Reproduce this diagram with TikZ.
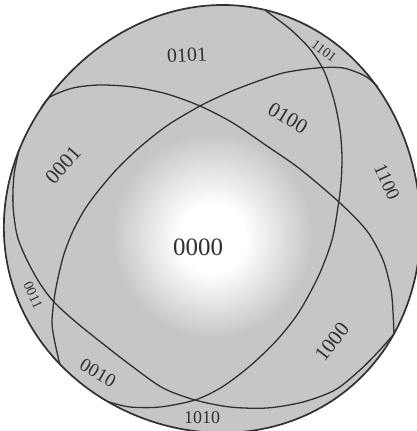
\documentclass[tikz,border=0pt]{standalone}
\usepackage{fontspec}
\setmainfont{Liberation Serif}
\definecolor{ink}{HTML}{303030}
\definecolor{rim}{HTML}{C6C6C6}
\pgfdeclareradialshading{globe}{\pgfpoint{0bp}{-2.5bp}}{%
  color(0bp)=(white); color(4bp)=(white); color(12bp)=(rim); color(50bp)=(rim)}
\tikzset{declare function={rimr(\t)=211+0.88*cos(\t)-0.92*sin(\t)-2.75*cos(2*\t)
  +0.43*sin(2*\t)-2.67*cos(3*\t)-2*sin(3*\t);}}

\begin{document}
\begin{tikzpicture}[
  x=1pt,y=1pt,
  outline/.style={draw=ink,line width=1.7pt},
  curve/.style={draw=ink,line width=1.3pt},
  code/.style={font=\fontsize{20}{20}\selectfont,text=ink,inner sep=0pt},
  bigcode/.style={code,font=\fontsize{25}{25}\selectfont},
  smallcode/.style={code,font=\fontsize{14}{14}\selectfont}
]
\useasboundingbox (0,0) rectangle (417,431);
\coordinate (O) at (214,211);

% Sphere outline (hand drawn, not quite round)
\begin{scope}[shift={(O)}]
  \shadedraw[shading=globe,outline] plot[domain=0:358,samples=180] (\x:{rimr(\x)}) -- cycle;
\end{scope}

% Four circles on the sphere (front halves)
\draw[curve] plot[smooth] coordinates {(41,323) (50,334) (73,343) (100,346)
  (133,344) (167,337) (200,325) (233,308) (267,285) (300,262) (340,228)
  (367,200) (383,171) (391,141) (393,119) (394,97)};
\draw[curve] plot[smooth] coordinates {(19,281) (14,256) (13,226) (17,196)
  (26,173) (39,149) (54,129) (77,108) (107,84) (133,64) (163,43) (195,31)
  (230,24) (267,23) (303,29) (335,41) (360,61) (378,79) (394,97)};
\draw[curve] plot[smooth] coordinates {(60,66) (55,88) (52,108) (54,131)
  (58,153) (64,177) (73,200) (85,222) (99,241) (117,262) (140,284) (168,306)
  (200,325) (225,337) (250,347) (283,358) (317,363) (343,363) (365,355) (378,344)};
\draw[curve] plot[smooth] coordinates {(266,420) (290,402) (310,382) (324,360)
  (334,331) (340,301) (342,274) (341,248) (338,224) (332,191) (319,156)
  (299,119) (277,91) (250,65) (222,44) (195,31) (160,24) (130,24) (109,29)};

% Region codes
\node[bigcode] (c0000) at (198,184) {0000};
\node[code,rotate=3] (c0101) at (187,376) {0101};
\node[smallcode,rotate=-37] (c1101) at (324,380) {1101};
\node[code,rotate=-31,font=\fontsize{21}{21}\selectfont] (c0100) at (288,313) {0100};
\node[code,rotate=-66,font=\fontsize{19}{19}\selectfont] (c1100) at (387,249) {1100};
\node[code,rotate=48,font=\fontsize{21}{21}\selectfont] (c0001) at (63,266) {0001};
\node[smallcode,rotate=-65] (c0011) at (33,136) {0011};
\node[code,rotate=-30,font=\fontsize{19}{19}\selectfont] (c0010) at (98,58) {0010};
\node[code,rotate=52,font=\fontsize{21}{21}\selectfont] (c1000) at (332,89) {1000};
\node[code,font=\fontsize{18}{18}\selectfont] (c1010) at (202,13) {1010};

\end{tikzpicture}
\end{document}
